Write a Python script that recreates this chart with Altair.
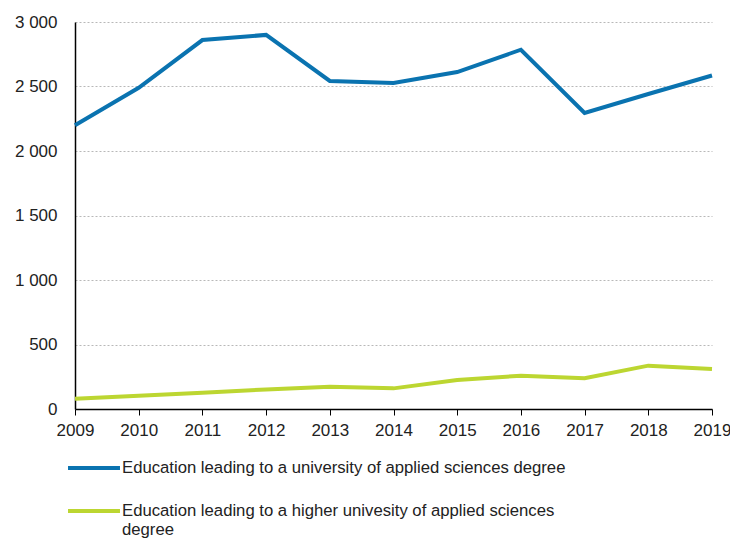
import altair as alt
import pandas as pd

years = [2009, 2010, 2011, 2012, 2013, 2014, 2015, 2016, 2017, 2018, 2019]
uas_degree = [2200, 2490, 2860, 2900, 2543, 2527, 2612, 2785, 2295, 2442, 2585]
higher_uas_degree = [80, 102, 126, 152, 173, 160, 225, 258, 238, 336, 310]

s1 = "Education leading to a university of applied sciences degree"
s2 = "Education leading to a higher univesity of applied sciences degree"
series_names = [s1, s2]
colors = ["#0a73b0", "#bcd631"]

rows = []
for y, a, b in zip(years, uas_degree, higher_uas_degree):
    rows.append({"year": y, "value": a, "series": s1})
    rows.append({"year": y, "value": b, "series": s2})
df = pd.DataFrame(rows)

FS = 17

chart = alt.Chart(df).mark_line(strokeWidth=4, strokeJoin="miter").encode(
    x=alt.X("year:Q",
            scale=alt.Scale(domain=[2009, 2019], nice=False, zero=False),
            axis=alt.Axis(values=years, format="d", title=None, grid=False,
                          domainColor="#000000", domainWidth=1.5,
                          tickColor="#000000", tickSize=6, labelPadding=7,
                          labelFlush=False, labelOverlap=False,
                          labelFontSize=FS, labelColor="#222222",
                          labelFont="Liberation Sans")),
    y=alt.Y("value:Q",
            scale=alt.Scale(domain=[0, 3000], nice=False),
            axis=alt.Axis(values=[0, 500, 1000, 1500, 2000, 2500, 3000],
                          title=None, ticks=False,
                          domainColor="#000000", domainWidth=1.5,
                          gridColor="#b8b8b8", gridDash=[2, 2], gridWidth=1,
                          labelExpr="replace(format(datum.value, ','), ',', ' ')",
                          labelPadding=18, labelFontSize=FS, labelColor="#222222",
                          labelFont="Liberation Sans")),
    color=alt.Color("series:N",
                    scale=alt.Scale(domain=series_names, range=colors),
                    legend=alt.Legend(
                        title=None, orient="none", legendX=-9, legendY=418,
                        direction="vertical", symbolType="stroke",
                        symbolSize=2700, symbolStrokeWidth=4,
                        labelFontSize=16.7, labelFont="Liberation Sans",
                        labelColor="#222222", labelLimit=700, labelOffset=0,
                        rowPadding=6,
                        labelExpr="datum.label == '" + s2 + "' ? ['Education leading to a higher univesity of applied sciences', 'degree'] : datum.label")),
).properties(
    width=637, height=387,
    autosize=alt.AutoSizeParams(type="none"),
    padding={"left": 67, "top": 14, "right": 18, "bottom": 133},
).configure_view(stroke=None)

chart.save("out.html", embed_options={"renderer": "svg", "actions": False})
